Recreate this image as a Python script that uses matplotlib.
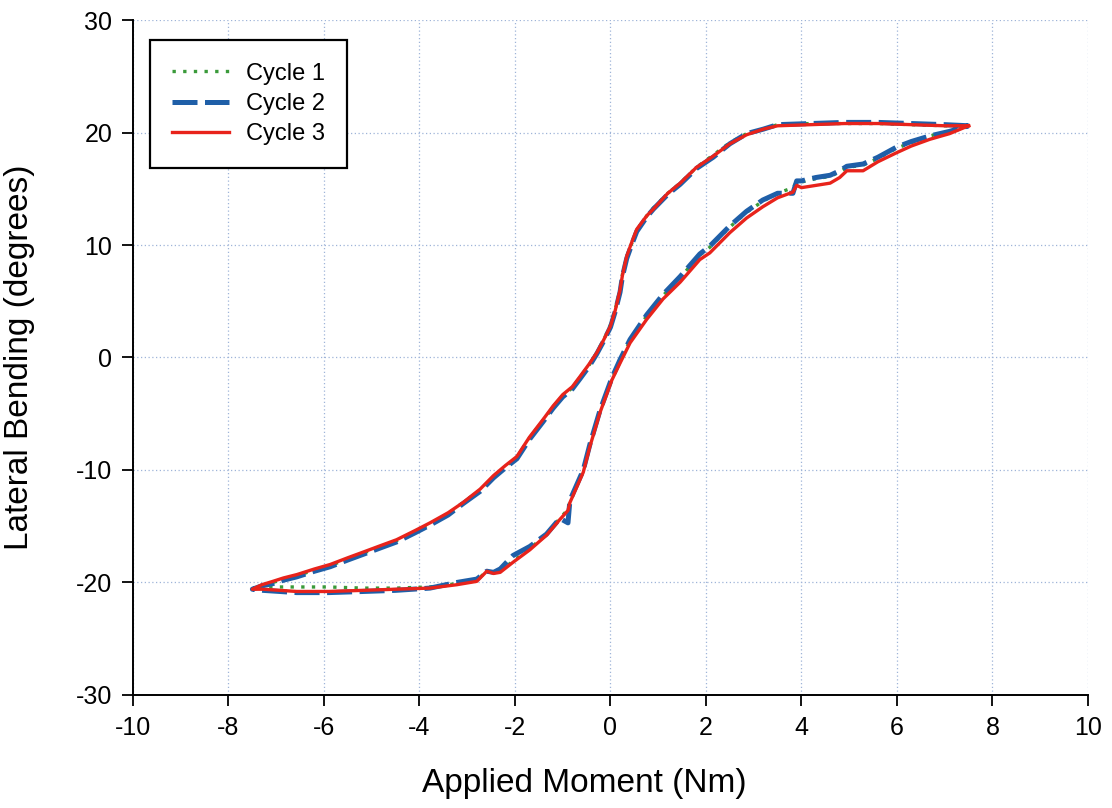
import numpy as np
import matplotlib
matplotlib.use("Agg")
import matplotlib.pyplot as plt

plt.rcParams["font.family"] = ["Liberation Sans", "DejaVu Sans"]
plt.rcParams["axes.unicode_minus"] = False

# upper (unloading) branch, +7.5 -> -7.5 Nm
x_up = [7.5, 7.0, 6.3, 5.6, 4.9, 4.2, 3.5, 3.2, 2.85, 2.5, 2.15, 1.8, 1.46, 1.2, 0.9,
        0.76, 0.55, 0.45, 0.34, 0.25, 0.2, 0.1, 0.0, -0.15, -0.29, -0.45, -0.64, -0.8,
        -1.0, -1.2, -1.41, -1.7, -1.96, -2.2, -2.45, -2.73, -3.09, -3.4, -3.78, -4.1,
        -4.48, -4.8, -5.18, -5.5, -5.87, -6.2, -6.57, -6.85, -7.07, -7.3, -7.5]
up_c1 = [20.6, 20.6, 20.7, 20.8, 20.8, 20.8, 20.7, 20.3, 19.9, 19.1, 18.0, 16.9, 15.5, 14.6,
         13.3, 12.6, 11.3, 10.2, 9.0, 7.4, 6.0, 4.3, 2.9, 1.5, 0.4, -0.7, -1.8, -2.7, -3.4,
         -4.4, -5.6, -7.2, -8.9, -9.7, -10.6, -11.8, -12.9, -13.9, -14.8, -15.5, -16.3,
         -16.8, -17.4, -17.9, -18.5, -18.9, -19.4, -19.7, -20.0, -20.3, -20.6]
up_c2 = [20.6, 20.7, 20.8, 20.9, 20.9, 20.8, 20.7, 20.3, 19.9, 19.0, 17.8, 16.8, 15.4, 14.5,
         13.2, 12.5, 11.2, 10.1, 8.8, 7.2, 5.8, 4.1, 2.7, 1.4, 0.3, -0.8, -1.9, -2.8, -3.5,
         -4.5, -5.7, -7.3, -9.0, -9.8, -10.7, -11.9, -13.0, -14.0, -14.9, -15.6, -16.4,
         -16.9, -17.5, -18.0, -18.6, -19.0, -19.5, -19.8, -20.1, -20.3, -20.6]
up_c3 = [20.6, 20.6, 20.7, 20.8, 20.8, 20.7, 20.6, 20.3, 19.8, 19.0, 17.9, 16.9, 15.5, 14.6,
         13.2, 12.6, 11.4, 10.3, 9.0, 7.3, 6.0, 4.2, 2.8, 1.5, 0.4, -0.6, -1.7, -2.6, -3.3,
         -4.3, -5.5, -7.1, -8.8, -9.6, -10.5, -11.7, -12.9, -13.8, -14.7, -15.4, -16.2,
         -16.7, -17.3, -17.8, -18.4, -18.8, -19.3, -19.6, -19.9, -20.2, -20.6]

# lower (loading) branch, -7.5 -> +7.5 Nm
x_lo = [-7.5, -7.28, -6.57, -5.9, -5.18, -4.5, -3.78, -3.22, -2.8, -2.59, -2.45, -2.31,
        -2.04, -1.69, -1.34, -1.06, -0.89, -0.85, -0.57, -0.43, -0.22, 0.03, 0.2, 0.41,
        0.76, 1.10, 1.46, 1.87, 2.08, 2.5, 2.85, 3.19, 3.5, 3.82, 3.9, 4.0, 4.3, 4.6, 4.8,
        4.95, 5.29, 5.6, 5.99, 6.3, 6.69, 7.1, 7.5]
lo_c1 = [-20.6, -20.4, -20.4, -20.4, -20.5, -20.5, -20.4, -20.1, -19.8, -19.0, -19.1,
         -19.0, -18.1, -17.0, -15.7, -14.3, -13.5, -12.8, -10.1, -7.8, -4.8, -1.9, -0.3,
         1.5, 3.7, 5.5, 7.1, 9.1, 9.8, 11.6, 12.9, 13.9, 14.6, 15.1, 15.6, 15.6, 15.9,
         16.1, 16.5, 16.9, 17.1, 17.7, 18.6, 19.1, 19.7, 20.1, 20.6]
lo_c2 = [-20.6, -20.7, -20.9, -20.9, -20.8, -20.7, -20.5, -20.0, -19.7, -19.0, -19.1,
         -18.8, -17.6, -16.8, -15.7, -14.3, -14.7, -12.7, -10.0, -7.7, -4.7, -1.8, -0.2,
         1.6, 3.8, 5.6, 7.2, 9.2, 9.9, 11.7, 13.0, 14.0, 14.6, 14.6, 15.7, 15.7, 16.0,
         16.2, 16.6, 17.0, 17.2, 17.8, 18.7, 19.2, 19.7, 20.1, 20.6]
lo_c3 = [-20.6, -20.6, -20.8, -20.8, -20.7, -20.6, -20.5, -20.2, -19.9, -19.0, -19.2,
         -19.1, -18.2, -17.1, -15.8, -14.4, -13.6, -12.9, -10.2, -7.9, -4.9, -2.0, -0.5,
         1.3, 3.4, 5.2, 6.7, 8.7, 9.3, 11.1, 12.4, 13.4, 14.2, 14.7, 15.3, 15.1, 15.3,
         15.5, 16.0, 16.6, 16.6, 17.4, 18.2, 18.8, 19.4, 19.9, 20.6]

labels = ["Cycle 1", "Cycle 2", "Cycle 3"]

fig = plt.figure(figsize=(11.12, 8.08), dpi=100)
ax = fig.add_axes([0.1196, 0.1399, 0.8588, 0.8353])

xs = x_up + x_lo
ax.plot(xs, up_c1 + lo_c1, ls=(0, (1, 2.2)), color="#3a9a3a", lw=2.4, label=labels[0], zorder=3)
ax.plot(xs, up_c2 + lo_c2, ls=(0, (5, 1.5)), color="#1f5fa8", lw=3.6, label=labels[1], zorder=4)
ax.plot(xs, up_c3 + lo_c3, ls="-", color="#e8231b", lw=2.4, label=labels[2], zorder=5)

ax.set_xlim(-10, 10)
ax.set_ylim(-30, 30)
ax.set_xticks(np.arange(-10, 11, 2))
ax.set_yticks(np.arange(-30, 31, 10))
ax.grid(True, ls=(0, (1, 2)), color="#9fb4d8", lw=0.9)
for s in ["top", "right"]:
    ax.spines[s].set_visible(False)
for s in ["left", "bottom"]:
    ax.spines[s].set_linewidth(1.4)
ax.tick_params(direction="out", length=8, width=1.3, labelsize=18, pad=7)
ax.set_xlabel("Applied Moment (Nm)", fontsize=24)
ax.set_ylabel("Lateral Bending (degrees)", fontsize=24)
ax.xaxis.set_label_coords(0.473, -0.108)
ax.yaxis.set_label_coords(-0.103, 0.5)

leg = ax.legend(loc="upper left", bbox_to_anchor=(0.0178, 0.970), borderaxespad=0,
                fontsize=17, handlelength=2.4, handletextpad=0.7, fancybox=False,
                framealpha=1, borderpad=0.95, labelspacing=0.35)
leg.get_frame().set_edgecolor("black")
leg.get_frame().set_linewidth(1.6)

fig.savefig("out.png", dpi=100)
